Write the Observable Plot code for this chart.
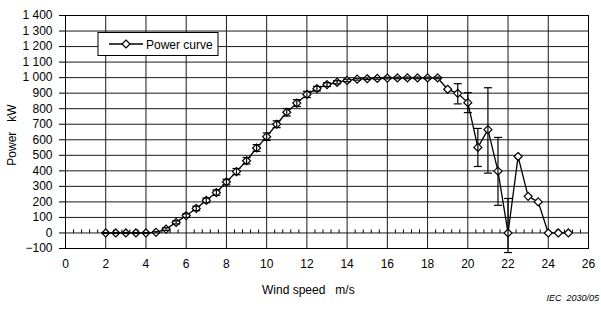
<!DOCTYPE html>
<html>
<head>
<meta charset="utf-8">
<script src="https://cdn.jsdelivr.net/npm/d3@7"></script>
<script src="https://cdn.jsdelivr.net/npm/@observablehq/plot@0.6"></script>
<style>
  html, body { margin: 0; padding: 0; background: #fff; overflow: hidden; }
  #chart svg { display: block; }
</style>
</head>
<body>
<div id="chart"></div>
<script>
// ---- data ----
const speed = [2, 2.5, 3, 3.5, 4, 4.5, 5, 5.5, 6, 6.5, 7, 7.5, 8, 8.5, 9, 9.5, 10, 10.5, 11, 11.5,
  12, 12.5, 13, 13.5, 14, 14.5, 15, 15.5, 16, 16.5, 17, 17.5, 18, 18.5, 19, 19.5, 20, 20.5, 21, 21.5,
  22, 22.5, 23, 23.5, 24, 24.5, 25];
const power = [0, 0, 0, 0, 0, 4, 25, 68, 112, 158, 210, 260, 328, 395, 465, 547, 620, 700, 777, 836,
  892, 929, 955, 970, 982, 990, 993, 995, 997, 998, 998, 998, 998, 998, 925, 899, 839, 551, 665, 398,
  0, 492, 236, 200, 0, 0, 0];
const errDown = [3, 3, 3, 3, 3, 4, 8, 10, 12, 14, 15, 17, 18, 20, 21, 22, 24, 22, 24, 22,
  20, 15, 12, 10, 8, 6, 5, 5, 5, 5, 5, 5, 5, 5, 0, 68, 64, 123, 280, 220,
  126, 0, 0, 0, 0, 0, 0];
const errUp = [3, 3, 3, 3, 3, 4, 8, 10, 12, 14, 15, 17, 18, 20, 21, 22, 24, 22, 24, 22,
  20, 15, 12, 10, 8, 6, 5, 5, 5, 5, 5, 5, 5, 5, 0, 62, 64, 122, 270, 217,
  222, 0, 0, 0, 0, 0, 0];
const xTicks = [0, 2, 4, 6, 8, 10, 12, 14, 16, 18, 20, 22, 24, 26];
const yTicks = [-100, 0, 100, 200, 300, 400, 500, 600, 700, 800, 900, 1000, 1100, 1200, 1300, 1400];
const minorTicks = d3.range(0, 26.001, 0.4).map(v => +v.toFixed(1)).filter(v => Math.abs(v / 2 - Math.round(v / 2)) > 1e-6);
const seriesName = "Power curve";

const rows = speed.map((s, i) => ({ speed: s, power: power[i], lo: power[i] - errDown[i], hi: power[i] + errUp[i], e: errDown[i] + errUp[i] }));
const withErr = rows.filter(d => d.e > 0);

const capSymbol = { draw(ctx, size) { const r = Math.sqrt(size / Math.PI); ctx.moveTo(-r, 0); ctx.lineTo(r, 0); } };
const tickSymbol = { draw(ctx, size) { const r = Math.sqrt(size / Math.PI); ctx.moveTo(0, 0); ctx.lineTo(0, -r); } };

const fmt = d => {
  if (d < 0) return "\u2212" + (-d);
  if (d >= 1000) return Math.floor(d / 1000) + " " + String(d % 1000).padStart(3, "0");
  return String(d);
};

const FONT = "'Liberation Sans', Arial, sans-serif";
const NB = "\u00a0";

const chart = Plot.plot({
  width: 601,
  height: 309,
  marginLeft: 65,
  marginRight: 13,
  marginTop: 15,
  marginBottom: 61,
  style: { fontFamily: FONT, fontSize: "12px", color: "#000", background: "#fff" },
  x: { domain: [0, 26] },
  y: { domain: [-100, 1400] },
  marks: [
    Plot.ruleY(yTicks, { stroke: "#1a1a1a", strokeWidth: 1 }),
    Plot.ruleX(xTicks, { stroke: "#1a1a1a", strokeWidth: 1 }),
    Plot.frame({ stroke: "#000" }),
    Plot.dot(minorTicks, { x: d => d, y: 0, symbol: tickSymbol, r: 3.5, stroke: "#000", strokeWidth: 1 }),
    Plot.axisY(yTicks, { tickFormat: fmt, tickSize: 6, tickPadding: 7, label: null, fontSize: 12, stroke: "#000" }),
    Plot.axisX(xTicks, { tickFormat: d => String(d), tickSize: 0, tickPadding: 11, label: null, fontSize: 12 }),
    Plot.line(rows, { x: "speed", y: "power", stroke: "#000", strokeWidth: 1.3 }),
    Plot.dot(rows, { x: "speed", y: "power", symbol: "diamond2", r: 3.6, fill: "#fff", stroke: "#000", strokeWidth: 1.2 }),
    Plot.ruleX(withErr, { x: "speed", y1: "lo", y2: "hi", stroke: "#000", strokeWidth: 1.2 }),
    Plot.dot(withErr, { x: "speed", y: "lo", symbol: capSymbol, r: 4, stroke: "#000", strokeWidth: 1.2 }),
    Plot.dot(withErr, { x: "speed", y: "hi", symbol: capSymbol, r: 4, stroke: "#000", strokeWidth: 1.2 })
  ]
});

const svg = d3.select(chart);
// axis titles
svg.append("text").attr("transform", "translate(16,135) rotate(-90)")
  .attr("text-anchor", "middle").attr("font-family", FONT).attr("font-size", 12).attr("fill", "#000")
  .text("Power" + NB + NB + NB + "kW");
svg.append("text").attr("x", 262).attr("y", 294).attr("text-anchor", "start")
  .attr("font-family", FONT).attr("font-size", 12).attr("fill", "#000")
  .text("Wind speed" + NB + NB + NB + "m/s");
svg.append("text").attr("x", 599).attr("y", 301).attr("text-anchor", "end")
  .attr("font-family", FONT).attr("font-size", 9).attr("font-style", "italic").attr("fill", "#000")
  .text("IEC" + NB + NB + "2030/05");
// legend
const lg = svg.append("g");
lg.append("rect").attr("x", 98).attr("y", 32.5).attr("width", 120).attr("height", 23)
  .attr("fill", "#fff").attr("stroke", "#000").attr("stroke-width", 1);
lg.append("line").attr("x1", 109).attr("x2", 143).attr("y1", 44).attr("y2", 44)
  .attr("stroke", "#000").attr("stroke-width", 1.3);
lg.append("path").attr("d", d3.symbol(d3.symbolDiamond2, 3.6 * 3.6 * Math.PI)()).attr("transform", "translate(126,44)")
  .attr("fill", "#fff").attr("stroke", "#000").attr("stroke-width", 1.2);
lg.append("text").attr("x", 146).attr("y", 48.5).attr("text-anchor", "start").attr("font-family", FONT).attr("font-size", 12)
  .attr("fill", "#000").text(seriesName);

document.getElementById("chart").appendChild(chart);
</script>
</body>
</html>
